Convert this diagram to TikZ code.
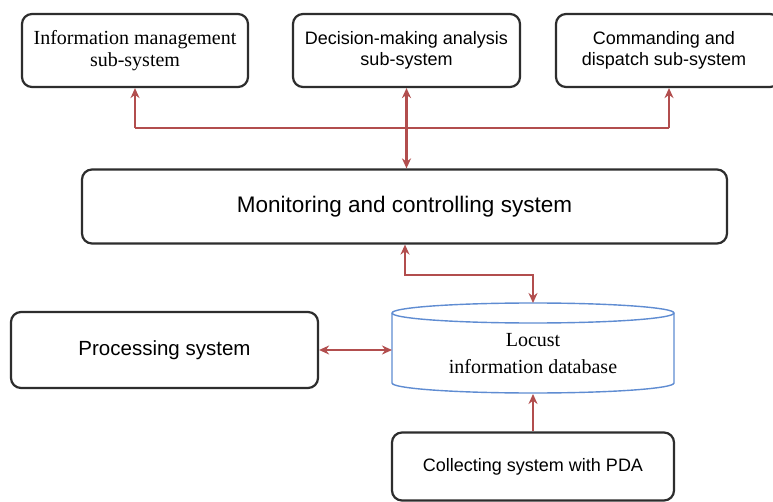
\documentclass[tikz,border=0pt]{standalone}
\usepackage{fontspec}
\setmainfont{Liberation Sans}
\newfontfamily\timesf{Liberation Serif}
\usetikzlibrary{arrows.meta}
\definecolor{conn}{RGB}{178,78,78}
\definecolor{dbblue}{RGB}{95,140,210}
\definecolor{boxline}{RGB}{45,45,45}
\tikzset{
  sysbox/.style={draw=boxline, line width=2.2pt, rounded corners=10pt, fill=white, inner sep=0pt, align=center},
  link/.style={draw=conn, line width=2.4pt, -{Stealth[length=10pt,width=9pt]}},
  dlink/.style={draw=conn, line width=2.4pt, {Stealth[length=10pt,width=9pt]}-{Stealth[length=10pt,width=9pt]}},
}
\begin{document}
\begin{tikzpicture}[x=1pt,y=-1pt]
\useasboundingbox (0,0) rectangle (773,502);
\fill[white] (0,0) rectangle (773,502);
% top boxes
\node[sysbox, minimum width=226pt, minimum height=73pt, font=\timesf\fontsize{20}{22}\selectfont] (info) at (135,50.5) {Information management\\sub-system};
\node[sysbox, minimum width=227pt, minimum height=73pt, font=\fontsize{18}{21}\selectfont] (dec) at (406.5,50.5) {Decision-making analysis\\sub-system};
\node[sysbox, minimum width=224pt, minimum height=73pt] (cmd) at (668,50.5) {};
\node[font=\fontsize{18}{21}\selectfont, align=center] (cmdt) at (664,50.5) {Commanding and\\dispatch sub-system};
% monitoring
\node[sysbox, minimum width=645pt, minimum height=74pt, font=\fontsize{22.5}{26}\selectfont] (mon) at (404.5,206.5) {Monitoring and controlling system};
% processing
\node[sysbox, minimum width=307pt, minimum height=76pt, font=\fontsize{20.5}{24}\selectfont] (proc) at (164.5,350) {Processing system};
% collecting
\node[sysbox, minimum width=282pt, minimum height=68pt, font=\fontsize{18}{21}\selectfont] (coll) at (533,466.5) {Collecting system with PDA};
% database cylinder
\node[minimum width=282pt, minimum height=90pt, inner sep=0pt] (db) at (533,348) {};
\draw[dbblue, line width=1.4pt, fill=white]
  (392,313) -- (392,383) arc[start angle=180, end angle=360, x radius=141pt, y radius=10pt]
  -- (674,313) arc[start angle=0, end angle=180, x radius=141pt, y radius=10pt] -- cycle;
\draw[dbblue, line width=1.4pt] (392,313) arc[start angle=180, end angle=360, x radius=141pt, y radius=10pt];
\node[font=\timesf\fontsize{20}{27}\selectfont, align=center] (dbt) at (533,354) {Locust\\information database};
% connectors
\coordinate (hl) at (135,128);
\coordinate (hr) at (669,128);
\draw[link] (hl) -- (info.south);
\draw[link] (hr) -- (cmd.south -| hr);
\draw[conn, line width=2.4pt] (hl) -- (hr);
\draw[dlink] (mon.north -| dec.south) -- (dec.south);
\coordinate (m1) at (405,275);
\coordinate (m2) at (533,275);
\draw[dlink] (mon.south -| m1) -- (m1) -- (m2) -- (533,303);
\draw[dlink] (proc.east) -- (392,350);
\draw[link] (coll.north) -- (533,394);
\end{tikzpicture}
\end{document}
